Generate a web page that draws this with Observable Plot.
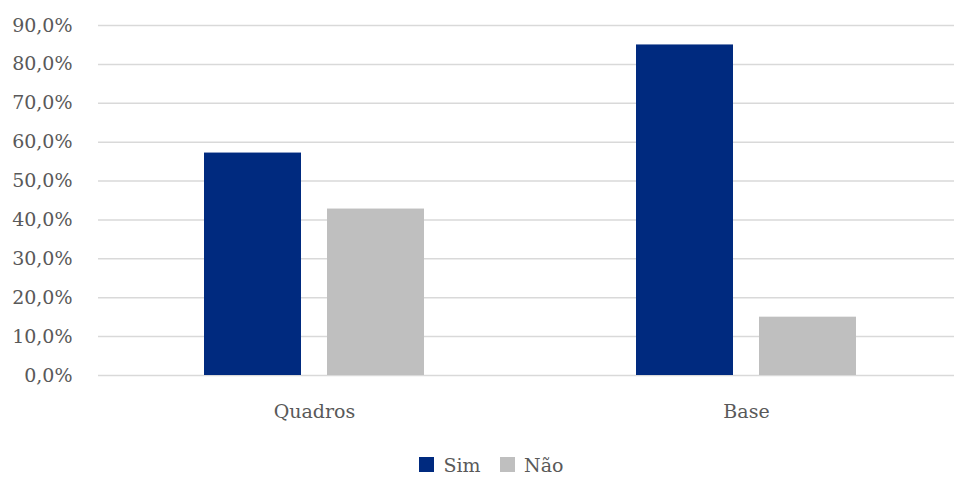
<!DOCTYPE html>
<html>
<head>
<meta charset="utf-8">
<script src="https://cdn.jsdelivr.net/npm/d3@7"></script>
<script src="https://cdn.jsdelivr.net/npm/@observablehq/plot@0.6"></script>
<style>
  html, body { margin: 0; padding: 0; background: #fff; }
  #chart svg { display: block; }
</style>
</head>
<body>
<div id="chart"></div>
<script>
const groups = ["Quadros", "Base"];
const series = ["Sim", "Não"];
const simValues = [57.2, 85.0];
const naoValues = [42.8, 15.0];
const yTicks = [0, 10, 20, 30, 40, 50, 60, 70, 80, 90];
const seriesColors = ["#002A7F", "#BFBFBF"];

const data = groups.flatMap((g, i) => [
  {group: g, serie: series[0], value: simValues[i]},
  {group: g, serie: series[1], value: naoValues[i]}
]);

const font = "'DejaVu Serif', serif";
const fmt = d => d.toFixed(1).replace(".", ",") + "%";

const chart = Plot.plot({
  width: 954,
  height: 448,
  marginLeft: 98,
  marginRight: -8,
  marginTop: 25,
  marginBottom: 73,
  style: {fontFamily: font, fontSize: "19px", color: "#595959", background: "#fff"},
  fx: {domain: groups, padding: 0, label: null, axis: null},
  x: {domain: series, paddingInner: 0.21, paddingOuter: 0.86, axis: null},
  y: {domain: [0, 90], label: null, axis: null},
  color: {domain: series, range: seriesColors},
  marks: [
    Plot.gridY(yTicks, {stroke: "#D9D9D9", strokeOpacity: 1, strokeWidth: 1.5}),
    Plot.axisY(yTicks, {tickSize: 0, tickPadding: 26, tickFormat: fmt, label: null, fill: "#595959"}),
    Plot.axisFx({anchor: "bottom", tickSize: 0, tickPadding: 29, label: null, fill: "#595959"}),
    Plot.barY(data, {fx: "group", x: "serie", y: "value", fill: "serie"})
  ]
});
document.getElementById("chart").appendChild(chart);

const legend = Plot.legend({
  color: {domain: series, range: seriesColors},
  legend: "swatches",
  swatchSize: 15,
  marginLeft: 419,
  style: {fontFamily: font, fontSize: "19px", color: "#595959"}
});
document.getElementById("chart").appendChild(legend);
</script>
</body>
</html>
